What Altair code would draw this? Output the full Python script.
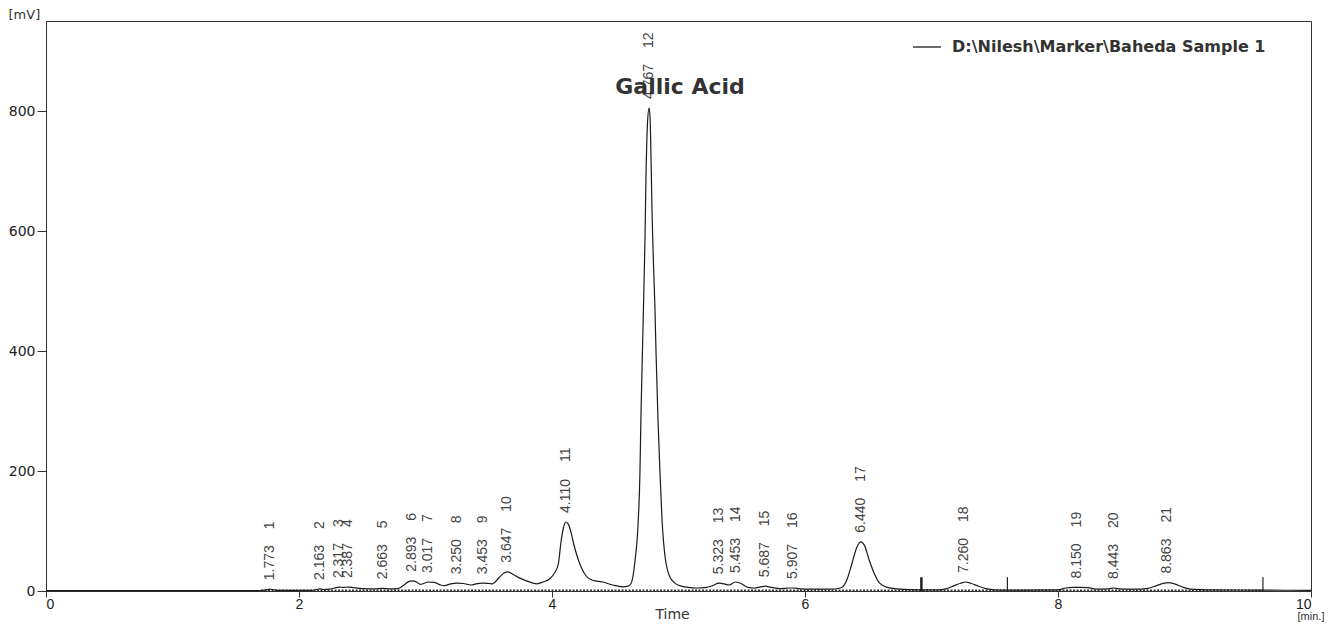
import altair as alt
import pandas as pd

SERIES = "D:\\Nilesh\\Marker\\Baheda Sample 1"

# traced chromatogram signal (time in min, signal in mV)
sig_t = [0.00, 1.00, 1.70, 1.74, 1.77, 1.80, 1.85, 2.10, 2.14, 2.16, 2.19, 2.24, 2.28, 2.32, 2.35,
         2.39, 2.43, 2.50, 2.60, 2.66, 2.72, 2.78, 2.83, 2.87, 2.90, 2.93, 2.96, 2.99, 3.02, 3.07,
         3.12, 3.15, 3.20, 3.25, 3.30, 3.36, 3.40, 3.45, 3.50, 3.53, 3.58, 3.62, 3.65, 3.69, 3.75,
         3.81, 3.88, 3.93, 3.98, 4.02, 4.05, 4.07, 4.09, 4.11, 4.13, 4.15, 4.17, 4.20, 4.23, 4.27,
         4.32, 4.40, 4.48, 4.56, 4.60, 4.624, 4.656, 4.680, 4.695, 4.703, 4.719, 4.735, 4.743, 4.755,
         4.767, 4.775, 4.783, 4.791, 4.800, 4.814, 4.822, 4.838, 4.854, 4.870, 4.894, 4.933, 4.996,
         5.075, 5.15, 5.22, 5.27, 5.32, 5.36, 5.40, 5.45, 5.49, 5.55, 5.60, 5.65, 5.69, 5.73, 5.80,
         5.87, 5.91, 5.96, 6.05, 6.20, 6.28, 6.33, 6.37, 6.41, 6.44, 6.47, 6.51, 6.55, 6.59, 6.65,
         6.75, 6.90, 7.05, 7.12, 7.18, 7.23, 7.27, 7.31, 7.37, 7.43, 7.50, 7.70, 8.00, 8.06, 8.12,
         8.18, 8.24, 8.30, 8.40, 8.44, 8.48, 8.60, 8.70, 8.78, 8.84, 8.87, 8.92, 8.98, 9.05, 9.20,
         9.60, 10.00]
sig_mv = [0.5, 0.5, 0.8, 2, 3, 2, 1, 1, 2.5, 3.5, 2.5, 3, 5, 6.5, 6,
          6.5, 5.5, 4, 3.5, 4.5, 3.5, 4, 10, 16, 17, 15, 11, 13, 15, 14.5,
          10, 9, 12, 13, 12.5, 10, 12, 13, 12.5, 12, 22, 30, 32, 28, 21,
          16, 12, 15, 20, 30, 45, 80, 105, 115, 111, 98, 80, 57, 40, 25,
          18, 15, 10, 7, 8, 12, 50, 110, 195, 290, 435, 585, 690, 780,
          805, 790, 720, 630, 560, 470, 400, 285, 195, 118, 57, 23, 10,
          6, 5, 6, 9, 13, 12, 10, 15, 13, 6, 5, 7, 8, 6, 4,
          5, 5, 3.5, 3, 3, 5, 18, 45, 73, 82, 76, 50, 28, 13, 6,
          3, 2, 2, 4, 9, 13, 15, 13, 8, 4, 2, 1.5, 2, 5, 6,
          6, 5.5, 3, 3.5, 5, 3.5, 3, 4, 9, 13, 14, 12, 7, 3, 2,
          1.5, 1]

# integrated peaks
peak_no = list(range(1, 22))
peak_rt = [1.773, 2.163, 2.317, 2.387, 2.663, 2.893, 3.017, 3.250, 3.453, 3.647, 4.110,
           4.767, 5.323, 5.453, 5.687, 5.907, 6.440, 7.260, 8.150, 8.443, 8.863]
peak_h = [3, 3.5, 6.5, 6.5, 4.5, 17, 15, 13, 13, 32, 115,
          805, 13, 15, 8, 5, 82, 15, 6, 5, 14]

# event markers
marker_t = [6.92, 7.60, 9.62]
marker_h = [23, 23, 23]
marker_w = [2.5, 1.2, 1.2]

# integration baseline
base_t = [1.70, 9.62]
base_v = [1.0, 1.0]

# annotations
annot_text = ["Gallic Acid"]
annot_x = [4.767]
annot_y = [805]
unit_text = ["[min.]"]
unit_x = [10]
unit_y = [0]

x_ticks = [0, 2, 4, 6, 8, 10]
y_ticks = [0, 200, 400, 600, 800]

sig = pd.DataFrame({"t": sig_t, "mv": sig_mv, "series": SERIES})
peaks = pd.DataFrame({"rt": peak_rt, "h": peak_h,
                      "lbl": [f"{v:.3f}" for v in peak_rt],
                      "num": [str(n) for n in peak_no]})
markers = pd.DataFrame({"t": marker_t, "h": marker_h, "w": marker_w, "z": [0] * len(marker_t)})
base = pd.DataFrame({"t": base_t, "v": base_v})
annot = pd.DataFrame({"x": annot_x, "y": annot_y, "text": annot_text})
unit = pd.DataFrame({"x": unit_x, "y": unit_y, "text": unit_text})

xs = alt.Scale(domain=[0, 10], nice=False, zero=False)
ys = alt.Scale(domain=[0, 950], nice=False)

xax = alt.Axis(values=x_ticks, title="Time", format="d", grid=False, tickSize=6, labelPadding=0,
               labelFont="Liberation Sans", labelFontSize=14, labelColor="#222",
               titleFont="DejaVu Sans", titleFontSize=14, titleFontWeight="normal", titleColor="#333",
               titleBaseline="bottom", titleY=30, titleX=626,
               domainColor="#333", tickColor="#333")
yax = alt.Axis(values=y_ticks, title="[mV]", format="d", grid=False, tickSize=9, labelPadding=2,
               labelFont="DejaVu Sans", labelFontSize=14, labelColor="#222",
               titleFont="DejaVu Sans", titleFontSize=13, titleFontWeight="normal", titleColor="#333",
               titleAngle=0, titleAlign="left", titleBaseline="middle", titleX=-38, titleY=-7,
               domainColor="#333", tickColor="#333")

line = alt.Chart(sig).mark_line(strokeWidth=1.2, interpolate="monotone").encode(
    x=alt.X("t:Q", scale=xs, axis=xax),
    y=alt.Y("mv:Q", scale=ys, axis=yax),
    color=alt.Color("series:N", scale=alt.Scale(range=["#1a1a1a"]),
                    legend=alt.Legend(title=None, orient="none", legendX=866, legendY=11, padding=0,
                                      symbolType="stroke", symbolSize=784, symbolStrokeWidth=1.3,
                                      labelFont="DejaVu Sans", labelFontWeight="bold", labelFontSize=16,
                                      labelColor="#333", labelOffset=10, labelLimit=0)),
)

baseline = alt.Chart(base).mark_line(strokeDash=[2, 1.5], strokeWidth=2, color="#333").encode(
    x=alt.X("t:Q", scale=xs), y=alt.Y("v:Q", scale=ys))

rules = alt.Chart(markers).mark_rule(color="#222").encode(
    x=alt.X("t:Q", scale=xs), y=alt.Y("z:Q", scale=ys), y2="h:Q",
    strokeWidth=alt.StrokeWidth("w:Q", scale=None))

# with angle=270 the offsets act in the rotated frame: dx moves the text upward
rt_text = alt.Chart(peaks).mark_text(angle=270, align="left", baseline="middle", dx=9,
                                     font="Liberation Sans", fontSize=14, color="#444").encode(
    x=alt.X("rt:Q", scale=xs), y=alt.Y("h:Q", scale=ys), text="lbl:N")

num_text = alt.Chart(peaks).mark_text(angle=270, align="left", baseline="middle", dx=60,
                                      font="Liberation Sans", fontSize=14, color="#444").encode(
    x=alt.X("rt:Q", scale=xs), y=alt.Y("h:Q", scale=ys), text="num:N")

annot_mark = alt.Chart(annot).mark_text(align="center", baseline="middle", dx=31, dy=-21,
                                        font="DejaVu Sans", fontSize=22, fontWeight="bold",
                                        color="#333").encode(
    x=alt.X("x:Q", scale=xs), y=alt.Y("y:Q", scale=ys), text="text:N")

unit_mark = alt.Chart(unit).mark_text(align="center", baseline="top", dy=20,
                                      font="Liberation Sans", fontSize=11, color="#333").encode(
    x=alt.X("x:Q", scale=xs), y=alt.Y("y:Q", scale=ys), text="text:N")

chart = alt.layer(baseline, rules, line, rt_text, num_text, annot_mark, unit_mark).properties(
    width=1265, height=570,
    padding={"left": 38, "top": 13, "right": 19, "bottom": 32},
    autosize=alt.AutoSizeParams(type="none"),
    background="white",
).configure_view(stroke="#333", strokeWidth=1)

chart.save("out.html", embed_options={"renderer": "svg", "actions": False})
